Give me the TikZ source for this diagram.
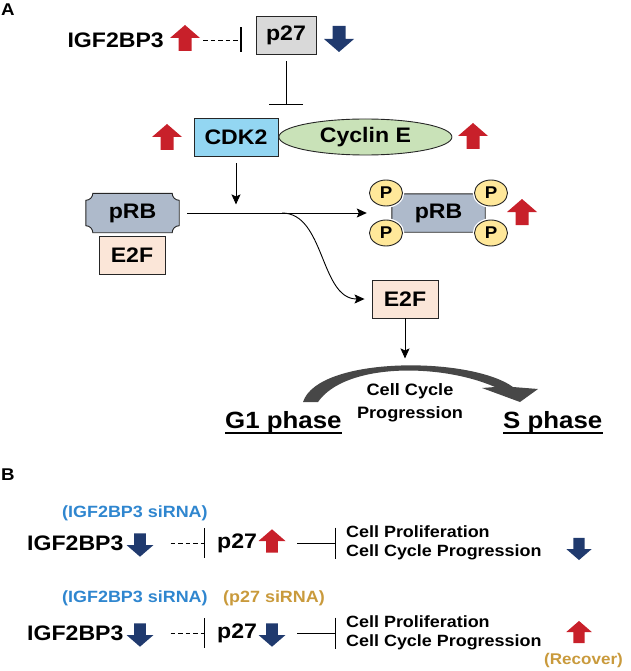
\documentclass[tikz,border=0pt]{standalone}
\usepackage{fontspec}
\setmainfont{Liberation Sans}[FakeStretch=1.1]
\usetikzlibrary{arrows.meta,shapes.geometric,backgrounds,calc}

\definecolor{upred}{HTML}{C8202A}
\definecolor{dnblue}{HTML}{203A6E}
\definecolor{sirnablue}{HTML}{2F86CF}
\definecolor{sirnagold}{HTML}{C99A3C}
\definecolor{p27gray}{HTML}{D9D9D9}
\definecolor{cdkblue}{HTML}{93D6F2}
\definecolor{cycgreen}{HTML}{C9E2B8}
\definecolor{prbgray}{HTML}{AEBACB}
\definecolor{e2fpeach}{HTML}{FBE6D8}
\definecolor{pyellow}{HTML}{FFE89A}

\newcommand{\fsz}[1]{\fontsize{#1}{#1}\selectfont\bfseries}

% concave-cornered outline drawn round a node
\newcommand{\plaqueat}[1]{%
  \draw[plaque] ([xshift=7pt]#1.north west) -- ([xshift=-7pt]#1.north east)
    arc[start angle=180, end angle=270, radius=7pt] -- ([yshift=7pt]#1.south east)
    arc[start angle=90, end angle=180, radius=7pt] -- ([xshift=7pt]#1.south west)
    arc[start angle=0, end angle=90, radius=7pt] -- ([yshift=-7pt]#1.north west)
    arc[start angle=-90, end angle=0, radius=7pt] -- cycle;}

\tikzset{
  lbl/.style={inner sep=0pt, font=\fsz{21}},
  box/.style={draw=black!85, line width=0.9pt, inner sep=0pt, font=\fsz{21}},
  plaque/.style={fill=prbgray, draw=black!85, line width=0.9pt},
  phos/.style={ellipse, draw=black!85, fill=pyellow, line width=0.9pt,
    minimum width=33pt, minimum height=26pt, inner sep=0pt, font=\fsz{17},
    preaction={draw=white, line width=3.5pt}},
  arr/.style={line width=0.9pt, -{Stealth[length=10pt,width=9pt,inset=2pt]}},
  inh/.style={line width=0.9pt, -{Bar[width=#1,line width=1.1pt]}},
  inh/.default=25pt,
  dashinh/.style={inh=#1, dash pattern=on 4.5pt off 3pt},
  note/.style={inner sep=0pt, font=\fsz{16.3}},
  uline/.style={line width=1.6pt},
  uparr/.pic={\fill[upred] (-6.5,-13) -- (-6.5,0) -- (-15,0) -- (0,13)
    -- (15,0) -- (6.5,0) -- (6.5,-13) -- cycle;},
  dnarr/.pic={\fill[dnblue] (-6.5,13) -- (-6.5,0) -- (-15,0) -- (0,-13)
    -- (15,0) -- (6.5,0) -- (6.5,13) -- cycle;},
}

\begin{document}
\begin{tikzpicture}[x=1pt, y=1pt]
  \useasboundingbox (0,0) rectangle (630,-671);

  % panel A
  \node[lbl, font=\fsz{17}, anchor=base west] (pa) at (1,-16) {A};
  \node[lbl, anchor=east] (igf) at (164,-40) {IGF2BP3};
  \pic at (185,-38) {uparr};
  \node[box, fill=p27gray, minimum width=60pt, minimum height=38pt] (p27) at (286,-35) {p27};
  \pic at (339,-39) {dnarr};
  \draw[dashinh=25pt] ([xshift=39pt]igf.east) -- ($(igf.east -| p27.west)+(-14,0)$);
  \draw[inh=34pt] ([yshift=-7pt]p27.south) -- ++(0,-44);

  \node[box, fill=cdkblue, minimum width=84pt, minimum height=38pt] (cdk) at (236,-137) {CDK2};
  \node[box, ellipse, fill=cycgreen, minimum width=173pt, minimum height=36pt, anchor=west] (cyc) at (cdk.east) {Cyclin E};
  \pic at (167,-137) {uparr};
  \pic at (473,-136) {uparr};

  \node[lbl, minimum width=93pt, minimum height=39pt] (prbA) at (132.5,-213) {pRB};
  \node[box, fill=e2fpeach, minimum width=66pt, minimum height=38pt] (e2fA) at (132,-255) {E2F};
  \node[lbl, minimum width=93pt, minimum height=38pt] (prbB) at (438.5,-213) {pRB};
  \begin{scope}[on background layer]
    \plaqueat{prbA}
    \plaqueat{prbB}
  \end{scope}
  \node[phos] (pnw) at (386,-193) {P};
  \node[phos] (pne) at (491,-193) {P};
  \node[phos] (psw) at (386,-233) {P};
  \node[phos] (pse) at (491,-233) {P};
  \pic at (522,-212) {uparr};

  \node[box, fill=e2fpeach, minimum width=66pt, minimum height=38pt] (e2fB) at (405,-299) {E2F};

  \draw[arr] ([yshift=-7pt]cdk.south) -- ++(0,-41);
  \draw[arr] ([xshift=8pt]prbA.east) -- ([xshift=-25pt]prbB.west);
  \coordinate (fork) at (282,-213);
  \draw[arr] (fork) .. controls (325,-213) and (320,-299) .. ([xshift=-7pt]e2fB.west);
  \draw[arr] (e2fB.south) -- ++(0,-40);

  % G1 -> S
  \fill[black!72] (303,-402) .. controls (318,-356) and (470,-356) .. (513,-387)
    -- (538,-389) -- (520,-402) -- (482,-388) -- (495,-387)
    .. controls (440,-363) and (345,-363) .. (318,-402) -- cycle;
  \node[note, align=center, font=\fontsize{16.5}{23}\selectfont\bfseries] (ccp) at (410,-403) {Cell Cycle\\Progression};
  \node[lbl, font=\fsz{23.5}, anchor=base west] (g1) at (225,-428) {G1 phase};
  \node[lbl, font=\fsz{23.5}, anchor=base west] (sph) at (503,-428) {S phase};
  \draw[uline] ([yshift=-5pt]g1.base west) -- ([yshift=-5pt]g1.base east);
  \draw[uline] ([yshift=-5pt]sph.base west) -- ([yshift=-5pt]sph.base east);

  % panel B
  \node[lbl, font=\fsz{17}, anchor=base west] (pb) at (1,-480) {B};

  \node[note, anchor=west, text=sirnablue] (siA) at (62,-513) {(IGF2BP3 siRNA)};
  \node[lbl, anchor=west] (igfB1) at (27,-543) {IGF2BP3};
  \pic[scale=0.9] at (140,-545) {dnarr};
  \node[lbl, anchor=west] (pB1) at (217,-543) {p27};
  \pic[scale=0.9] at (272,-541) {uparr};
  \node[note, anchor=west, align=left, font=\fontsize{16.3}{19}\selectfont\bfseries] (cpB1) at (346,-543) {Cell Proliferation\\Cell Cycle Progression};
  \pic[scale=0.85] at (579,-549) {dnarr};
  \draw[dashinh=30pt] ([xshift=47pt]igfB1.east) -- ([xshift=-12pt]pB1.west);
  \draw[inh=31pt] ([xshift=40pt]pB1.east) -- ([xshift=-10pt]cpB1.west);

  \node[note, anchor=west, text=sirnablue] (siB) at (62,-598) {(IGF2BP3 siRNA)};
  \node[note, anchor=west, text=sirnagold] (siC) at (223,-598) {(p27 siRNA)};
  \node[lbl, anchor=west] (igfB2) at (27,-633) {IGF2BP3};
  \pic[scale=0.9] at (140,-635) {dnarr};
  \node[lbl, anchor=west] (pB2) at (217,-633) {p27};
  \pic[scale=0.9] at (272,-635) {dnarr};
  \node[note, anchor=west, align=left, font=\fontsize{16.3}{19}\selectfont\bfseries] (cpB2) at (346,-633) {Cell Proliferation\\Cell Cycle Progression};
  \pic[scale=0.85] at (579,-632) {uparr};
  \node[note, anchor=west, text=sirnagold, font=\fsz{15.5}] (rec) at (544,-660) {(Recover)};
  \draw[dashinh=30pt] ([xshift=47pt]igfB2.east) -- ([xshift=-12pt]pB2.west);
  \draw[inh=31pt] ([xshift=40pt]pB2.east) -- ([xshift=-10pt]cpB2.west);
\end{tikzpicture}
\end{document}
